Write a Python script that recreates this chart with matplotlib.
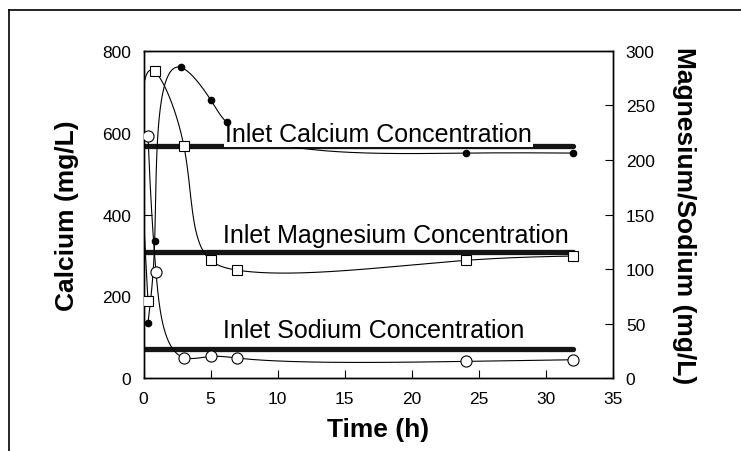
import numpy as np
import matplotlib
matplotlib.use('Agg')
import matplotlib.pyplot as plt
from matplotlib.lines import Line2D

plt.rcParams['font.family'] = ['Liberation Sans', 'DejaVu Sans']

# effluent samples: time (h) and concentration
ca_time = [0.33, 0.83, 2.8, 5, 6.2, 24, 32]
ca_conc = [135, 336, 759, 680, 625, 550, 550]

mg_time = [0.33, 0.83, 3, 5, 7, 24, 32]
mg_conc = [71, 281, 213, 108, 99, 108, 112]

na_time = [0.33, 0.93, 3, 5, 7, 24, 32]
na_conc = [222, 97, 19, 20, 18.5, 15.5, 17]

# feed concentrations
inlet_ca = 567
inlet_mg = 116
inlet_na = 27
inlet_span = [0, 32]


def natural(s, v, ss):
    # natural cubic spline v(s) evaluated at ss
    h = np.diff(s)
    k = len(s)
    A = np.zeros((k, k))
    b = np.zeros(k)
    A[0, 0] = A[-1, -1] = 1
    for i in range(1, k - 1):
        A[i, i - 1] = h[i - 1]
        A[i, i] = 2 * (h[i - 1] + h[i])
        A[i, i + 1] = h[i]
        b[i] = 6 * ((v[i + 1] - v[i]) / h[i] - (v[i] - v[i - 1]) / h[i - 1])
    m = np.linalg.solve(A, b)
    j = np.clip(np.searchsorted(s, ss) - 1, 0, k - 2)
    hh = s[j + 1] - s[j]
    t0 = s[j + 1] - ss
    t1 = ss - s[j]
    return (m[j] * t0**3 + m[j + 1] * t1**3) / (6 * hh) \
        + (v[j] / hh - m[j] * hh / 6) * t0 + (v[j + 1] / hh - m[j + 1] * hh / 6) * t1


def smooth_trace(a, x, y, n=800):
    # parametric spline in screen space, so steep rises don't overshoot
    pts = a.transData.transform(np.column_stack([x, y]))
    d = np.hypot(*np.diff(pts, axis=0).T) ** 0.8
    s = np.concatenate([[0], np.cumsum(d)])
    ss = np.linspace(0, s[-1], n)
    curve = np.column_stack([natural(s, pts[:, 0], ss), natural(s, pts[:, 1], ss)])
    out = a.transData.inverted().transform(curve)
    return out[:, 0], out[:, 1]


fig = plt.figure(figsize=(7.41, 4.52), dpi=100)
ax = fig.add_axes([0.1937, 0.1608, 0.634, 0.7248])
ax2 = ax.twinx()

ax.set_xlim(0, 35)
ax.set_ylim(0, 800)
ax2.set_ylim(0, 300)

# frame around the figure (left and top edges)
fig.add_artist(Line2D([0.0121, 0.0121], [0, 0.9757], color='black', lw=1.2))
fig.add_artist(Line2D([0.0121, 1], [0.9757, 0.9757], color='black', lw=1.2))

# calcium on the left axis
ax.plot(inlet_span, [inlet_ca, inlet_ca], color='#151515', lw=3.8, zorder=2,
        solid_capstyle='round')
sx, sy = smooth_trace(ax, ca_time, ca_conc)
ax.plot(sx, sy, color='black', lw=0.8, zorder=2)
ax.text(6.07, 580, 'Inlet Calcium Concentration', fontsize=18, zorder=3,
        va='baseline', bbox=dict(facecolor='white', edgecolor='none', pad=0.5))
ax.plot(ca_time, ca_conc, 'o', color='black', ms=4.5, zorder=4)

# magnesium and sodium on the right axis
ax2.plot(inlet_span, [inlet_mg, inlet_mg], color='#151515', lw=3.8, zorder=2,
         solid_capstyle='round')
ax2.plot(inlet_span, [inlet_na, inlet_na], color='#151515', lw=3.8, zorder=2,
         solid_capstyle='round')
sx, sy = smooth_trace(ax2, mg_time, mg_conc)
ax2.plot(sx, sy, color='black', lw=0.8, zorder=2)
sx, sy = smooth_trace(ax2, na_time, na_conc)
ax2.plot(sx, sy, color='black', lw=0.8, zorder=2)
ax2.text(5.95, 124.5, 'Inlet Magnesium Concentration', fontsize=18, zorder=3,
         va='baseline', bbox=dict(facecolor='white', edgecolor='none', pad=0.5))
ax2.text(5.95, 38.1, 'Inlet Sodium Concentration', fontsize=18, zorder=3,
         va='baseline', bbox=dict(facecolor='white', edgecolor='none', pad=0.5))
ax2.plot(mg_time, mg_conc, 's', mfc='white', mec='black', mew=0.8, ms=7, zorder=4)
ax2.plot(na_time, na_conc, 'o', mfc='white', mec='black', mew=0.8, ms=8, zorder=4)

ax.set_xticks(range(0, 36, 5))
ax.set_yticks(range(0, 801, 200))
ax2.set_yticks(range(0, 301, 50))
ax.tick_params(direction='in', length=6, width=0.8, labelsize=12.5, pad=9)
ax2.tick_params(direction='in', length=6, width=0.8, labelsize=12.5, pad=9)
for a in (ax, ax2):
    for s in a.spines.values():
        s.set_linewidth(1.0)

fig.text(0.0904, 0.523, 'Calcium (mg/L)', rotation=90, fontsize=19,
         fontweight='bold', ha='center', va='center')
fig.text(0.923, 0.523, 'Magnesium/Sodium (mg/L)', rotation=270, fontsize=19,
         fontweight='bold', ha='center', va='center')
fig.text(0.51, 0.048, 'Time (h)', fontsize=19, fontweight='bold',
         ha='center', va='center')

fig.savefig('out.png', dpi=100)
